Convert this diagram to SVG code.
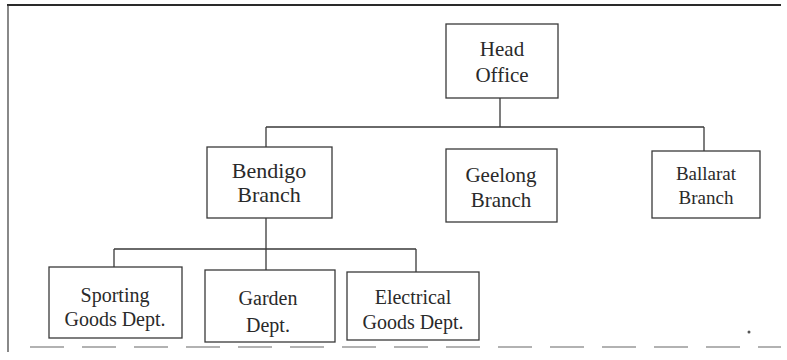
<svg xmlns="http://www.w3.org/2000/svg" width="787" height="360" viewBox="0 0 787 360">
<style>
.box{fill:#fff;stroke:#3a3a3a;stroke-width:1.3}
.lbl{font-family:"Liberation Serif","Times New Roman",serif;fill:#2a2a2a;text-anchor:middle}
.con{stroke:#3a3a3a;stroke-width:1.3;fill:none}
</style>
<rect width="787" height="360" fill="#fff"/>
<g id="frame">
<line x1="7" y1="5" x2="781" y2="5" stroke="#2a2a2a" stroke-width="2"/>
<line x1="8" y1="5" x2="8" y2="352" stroke="#3a3a3a" stroke-width="1.2"/>
<line x1="30" y1="347" x2="781" y2="347" stroke="#999" stroke-width="1.5" stroke-dasharray="34,18"/>
<circle cx="749" cy="332" r="1.5" fill="#555"/>
</g>
<g id="connectors">
<path class="con" d="M500,98V127M266,127H704M266,127V147M704,127V151M266,218V270M114,249H416M114,249V267M416,249V272"/>
</g>
<g id="head-office">
<rect class="box" x="446" y="24" width="112" height="74"/>
<text class="lbl" x="502" y="56" font-size="21">Head</text>
<text class="lbl" x="502" y="82" font-size="21">Office</text>
</g>
<g id="bendigo">
<rect class="box" x="207" y="147" width="125" height="71"/>
<text class="lbl" x="269" y="178" font-size="22">Bendigo</text>
<text class="lbl" x="269" y="202" font-size="22">Branch</text>
</g>
<g id="geelong">
<rect class="box" x="446" y="149" width="111" height="73"/>
<text class="lbl" x="501" y="182" font-size="21">Geelong</text>
<text class="lbl" x="501" y="207" font-size="21">Branch</text>
</g>
<g id="ballarat">
<rect class="box" x="652" y="151" width="108" height="67"/>
<text class="lbl" x="706" y="180" font-size="19">Ballarat</text>
<text class="lbl" x="706" y="204" font-size="19">Branch</text>
</g>
<g id="sporting">
<rect class="box" x="49" y="267" width="133" height="71"/>
<text class="lbl" x="115" y="302" font-size="20">Sporting</text>
<text class="lbl" x="115" y="326" font-size="20">Goods Dept.</text>
</g>
<g id="garden">
<rect class="box" x="205" y="270" width="130" height="72"/>
<text class="lbl" x="268" y="305" font-size="20">Garden</text>
<text class="lbl" x="268" y="332" font-size="20">Dept.</text>
</g>
<g id="electrical">
<rect class="box" x="347" y="272" width="132" height="68"/>
<text class="lbl" x="413" y="304" font-size="20">Electrical</text>
<text class="lbl" x="413" y="329" font-size="20">Goods Dept.</text>
</g>
</svg>
